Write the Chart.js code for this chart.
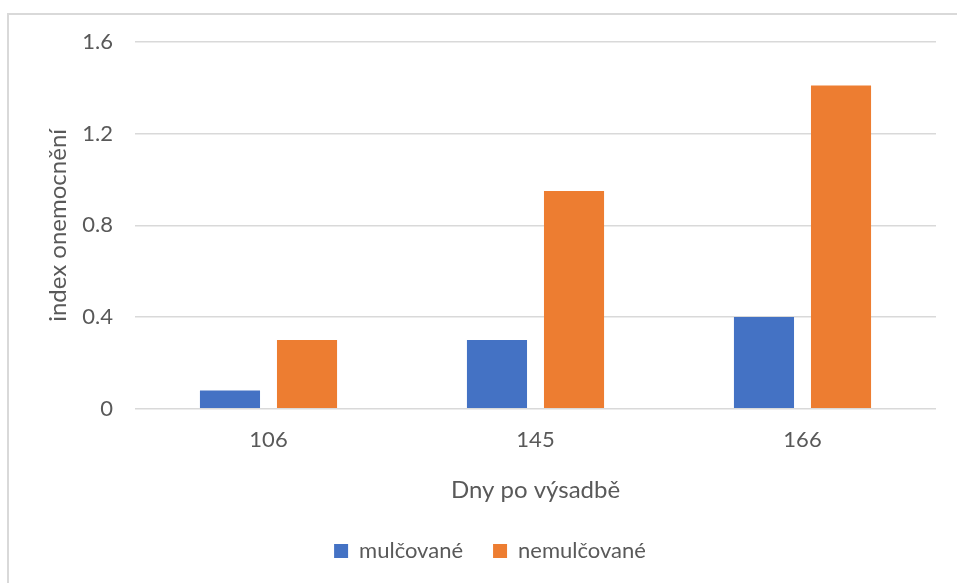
<!DOCTYPE html>
<html>
<head>
<meta charset="utf-8">
<script src="https://cdn.jsdelivr.net/npm/chart.js@4"></script>
<style>
  html, body { margin: 0; padding: 0; background: #fff; overflow: hidden; }
  #wrap { position: relative; width: 957px; height: 583px; }
  #frame { position: absolute; left: 7px; top: 13px; width: 980px; height: 600px;
           border-top: 2px solid #d9d9d9; border-left: 2px solid #d9d9d9; }
  #chart { position: absolute; left: 0; top: 0; }
</style>
</head>
<body>
<div id="wrap">
  <div id="frame"></div>
  <canvas id="chart" width="957" height="583"></canvas>
</div>
<script>
const days = ['106', '145', '166'];
const mulcovane = [0.08, 0.3, 0.4];
const nemulcovane = [0.3, 0.95, 1.41];
const yTicks = [0, 0.4, 0.8, 1.2, 1.6];

const fontName = "Lato, 'Open Sans', sans-serif";
const textColor = '#595959';

const ctx = document.getElementById('chart').getContext('2d');

const chart = new Chart(ctx, {
    type: 'bar',
    data: {
        labels: days,
        datasets: [{
            label: 'mulčované',
            data: mulcovane,
            backgroundColor: '#4472C4',
            categoryPercentage: 0.577,
            barPercentage: 0.78
        }, {
            label: 'nemulčované',
            data: nemulcovane,
            backgroundColor: '#ED7D31',
            categoryPercentage: 0.577,
            barPercentage: 0.78
        }]
    },
    options: {
        responsive: false,
        animation: false,
        layout: {
            padding: { left: 44, right: 21, top: 42, bottom: 11 }
        },
        scales: {
            x: {
                grid: { display: false },
                border: { display: false },
                ticks: { color: textColor, font: { family: fontName, size: 22 }, padding: 10 },
                title: {
                    display: true,
                    text: 'Dny po výsadbě',
                    color: textColor,
                    font: { family: fontName, size: 24 },
                    padding: { top: 13, bottom: 5 }
                }
            },
            y: {
                min: 0,
                max: 1.6,
                afterBuildTicks: axis => { axis.ticks = yTicks.map(v => ({ value: v })) },
                afterFit: axis => { axis.width = 91 },
                grid: { color: '#d9d9d9', lineWidth: 1.5, drawTicks: false },
                border: { display: false },
                ticks: {
                    color: textColor,
                    font: { family: fontName, size: 22 },
                    padding: 22,
                    callback: v => v === 0 ? '0' : v.toFixed(1)
                },
                title: {
                    display: true,
                    text: 'index onemocnění',
                    color: textColor,
                    font: { family: fontName, size: 24, lineHeight: 1.2 },
                    padding: { top: 0, bottom: 0 }
                }
            }
        },
        plugins: {
            legend: {
                position: 'bottom',
                labels: {
                    color: textColor,
                    font: { family: fontName, size: 22 },
                    boxWidth: 14,
                    boxHeight: 14,
                    padding: 30
                }
            },
            tooltip: { enabled: false }
        }
    }
});
</script>
</body>
</html>
